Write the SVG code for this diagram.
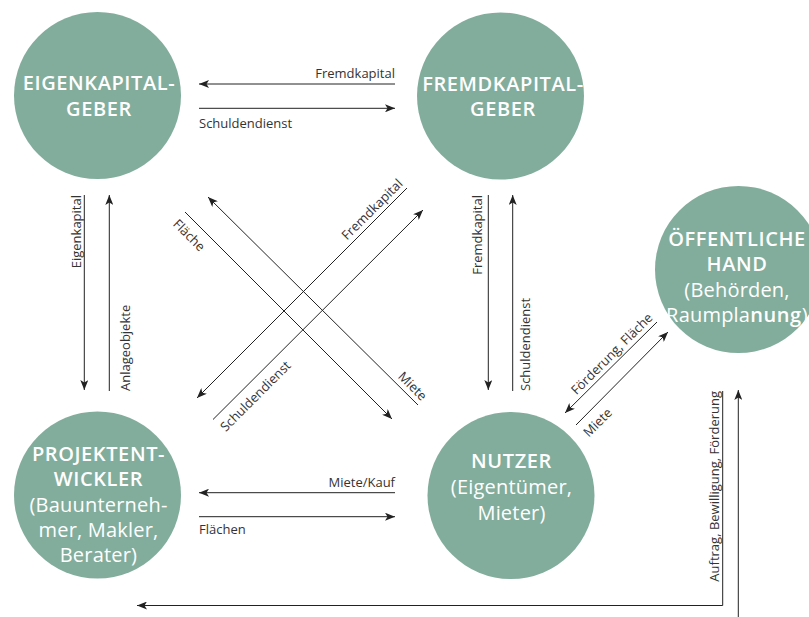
<svg xmlns="http://www.w3.org/2000/svg" width="809" height="617" viewBox="0 0 809 617">
<defs>
<marker id="ah" viewBox="0 0 10 8" refX="10" refY="4" markerWidth="10" markerHeight="8" markerUnits="userSpaceOnUse" orient="auto">
<path d="M0,0 L10,4 L0,8 L2.5,4 Z" fill="#222"/>
</marker>
<style>
.node circle{fill:#82ad9c}
.t{font-family:"Open Sans","Liberation Sans",sans-serif;fill:#fff;text-anchor:middle;font-size:20px}
.b{font-weight:600;letter-spacing:0.6px}
.r{font-weight:400;letter-spacing:0.2px}
.c line,.c path{stroke:#222;stroke-width:1;fill:none}
.a{marker-end:url(#ah)}
.l{font-family:"Open Sans","Liberation Sans",sans-serif;font-size:13px;fill:#333}
</style>
</defs>
<rect width="809" height="617" fill="#fff"/>
<g id="eigenkapitalgeber" class="node">
<circle cx="97.5" cy="95.5" r="83.5"/>
<text class="t b" x="99" y="90">EIGENKAPITAL-</text>
<text class="t b" x="99" y="116">GEBER</text>
</g>
<g id="fremdkapitalgeber" class="node">
<circle cx="500.5" cy="96" r="83.5"/>
<text class="t b" x="503" y="90.5">FREMDKAPITAL-</text>
<text class="t b" x="503" y="116">GEBER</text>
</g>
<g id="projektentwickler" class="node">
<circle cx="97.5" cy="495" r="83.5"/>
<text class="t b" x="98.5" y="461">PROJEKTENT-</text>
<text class="t b" x="98.5" y="486">WICKLER</text>
<text class="t r" x="98.5" y="512">(Bauunterneh-</text>
<text class="t r" x="98.5" y="537">mer, Makler,</text>
<text class="t r" x="98.5" y="562">Berater)</text>
</g>
<g id="nutzer" class="node">
<circle cx="511" cy="495.5" r="83.5"/>
<text class="t b" x="511.5" y="468">NUTZER</text>
<text class="t r" x="511.5" y="494">(Eigentümer,</text>
<text class="t r" x="511.5" y="520">Mieter)</text>
</g>
<g id="oeffentliche-hand" class="node">
<circle cx="738.5" cy="269.5" r="83.5"/>
<text class="t b" x="737" y="246">ÖFFENTLICHE</text>
<text class="t b" x="737" y="271">HAND</text>
<text class="t r" x="737" y="297">(Behörden,</text>
<text class="t r" x="737" y="322">Raumpla<tspan class="b">nung</tspan>)</text>
</g>
<g id="connectors" class="c">
<line class="a" x1="395" y1="84" x2="199" y2="84"/>
<text class="l" x="395" y="78" text-anchor="end">Fremdkapital</text>
<line class="a" x1="199" y1="108.3" x2="395" y2="108.3"/>
<text class="l" x="199" y="128">Schuldendienst</text>

<line class="a" x1="395" y1="492.7" x2="199" y2="492.7"/>
<text class="l" x="395" y="486.5" text-anchor="end">Miete/Kauf</text>
<line class="a" x1="199" y1="516.7" x2="395" y2="516.7"/>
<text class="l" x="199" y="534">Flächen</text>

<line class="a" x1="84.3" y1="195" x2="84.3" y2="390"/>
<text class="l" transform="translate(84.3,195) rotate(-90)" x="0" y="-3" text-anchor="end">Eigenkapital</text>
<line class="a" x1="109.3" y1="391" x2="109.3" y2="195"/>
<text class="l" transform="translate(109.3,391) rotate(-90)" x="0" y="21">Anlageobjekte</text>

<line class="a" x1="488.3" y1="195" x2="488.3" y2="390"/>
<text class="l" transform="translate(488.3,195) rotate(-90)" x="0" y="-6" text-anchor="end">Fremdkapital</text>
<line class="a" x1="512.7" y1="391" x2="512.7" y2="195"/>
<text class="l" transform="translate(512.7,391) rotate(-90)" x="0" y="17">Schuldendienst</text>

<line class="a" x1="185" y1="212" x2="392" y2="419"/>
<text class="l" transform="translate(185,212) rotate(45)" x="0" y="18">Fläche</text>
<line class="a" x1="418" y1="405" x2="208" y2="197"/>
<text class="l" transform="translate(418,405) rotate(45)" x="0" y="-5" text-anchor="end">Miete</text>
<line class="a" x1="407" y1="188" x2="197" y2="398"/>
<text class="l" transform="translate(407,188) rotate(-45)" x="0" y="-5" text-anchor="end">Fremdkapital</text>
<line class="a" x1="213" y1="419.5" x2="423" y2="210"/>
<text class="l" transform="translate(213,419.5) rotate(-45)" x="0" y="18">Schuldendienst</text>

<line class="a" x1="657" y1="322" x2="565" y2="413"/>
<text class="l" transform="translate(657,322) rotate(-45)" x="0" y="-5" text-anchor="end">Förderung, Fläche</text>
<line class="a" x1="576" y1="425" x2="668" y2="332"/>
<text class="l" transform="translate(576,425) rotate(-45)" x="0" y="18">Miete</text>

<path class="a" d="M722.7,391 V605.5 H137"/>
<text class="l" transform="translate(722.7,391) rotate(-90)" x="0" y="-4" text-anchor="end">Auftrag, Bewilligung, Förderung</text>
<line class="a" x1="738.3" y1="617" x2="738.3" y2="390"/>
</g>
</svg>
